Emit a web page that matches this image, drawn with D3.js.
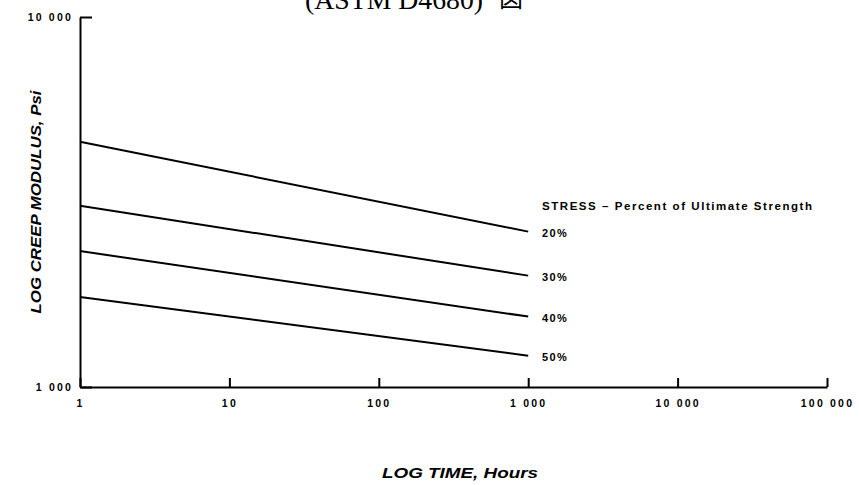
<!DOCTYPE html>
<html>
<head>
<meta charset="utf-8">
<script src="https://cdn.jsdelivr.net/npm/d3@7"></script>
<style>
  body { margin: 0; background: #fff; }
  svg { display: block; }
  .axis path, .axis line { stroke: #000; stroke-width: 2; }
  .axis text { font-family: "Liberation Sans", Arial, sans-serif; font-weight: bold; font-size: 10.5px; letter-spacing: 2.2px; fill: #000; }
</style>
</head>
<body>
<script>
// chart data
const stressLevels = ['20%', '30%', '40%', '50%']
const timeHours = [1, 1000]
const modulus20 = [4600, 2630]
const modulus30 = [3090, 2000]
const modulus40 = [2330, 1550]
const modulus50 = [1750, 1215]
const xTicks = [1, 10, 100, 1000, 10000, 100000]
const yTicks = [1000, 10000]

const series = [modulus20, modulus30, modulus40, modulus50]

const width = 859, height = 485

const svg = d3.select('body').append('svg')
  .attr('width', width)
  .attr('height', height)

const x = d3.scaleLog().domain([1, 100000]).range([80, 827])
const y = d3.scaleLog().domain([1000, 10000]).range([387, 17])

const fmt = d3.formatLocale({ decimal: '.', thousands: ' ', grouping: [3], currency: ['', ''] }).format(',d')

// title, cut off at the top of the page
svg.append('text')
  .attr('x', 305).attr('y', 9)
  .attr('textLength', 178)
  .attr('lengthAdjust', 'spacingAndGlyphs')
  .style('font-family', '"Liberation Serif", "DejaVu Serif", serif')
  .style('font-size', '27px')
  .text('(ASTM D4680)')
svg.append('text')
  .attr('x', 499).attr('y', 7)
  .style('font-family', '"Noto Sans CJK JP", sans-serif')
  .style('font-size', '24px')
  .text('図')

// axes
const xAxis = d3.axisBottom(x)
  .tickValues(xTicks)
  .tickFormat(fmt)
  .tickSizeInner(-9)
  .tickSizeOuter(0)
  .tickPadding(13)
svg.append('g').attr('class', 'axis')
  .attr('transform', `translate(0,${y(1000)})`)
  .call(xAxis)

const yAxis = d3.axisLeft(y)
  .tickValues(yTicks)
  .tickFormat(fmt)
  .tickSizeInner(-12)
  .tickSizeOuter(0)
  .tickPadding(7)
svg.append('g').attr('class', 'axis')
  .attr('transform', `translate(${x(1)},0)`)
  .call(yAxis)

// creep lines
const line = d3.line()
  .x((d, i) => x(timeHours[i]))
  .y(d => y(d))
svg.append('g').selectAll('path')
  .data(series)
  .join('path')
  .attr('d', d => line(d))
  .attr('fill', 'none')
  .attr('stroke', '#000')
  .attr('stroke-width', 2)

// legend labels at line ends
svg.append('text')
  .attr('x', 542).attr('y', 210)
  .attr('textLength', 270)
  .attr('lengthAdjust', 'spacing')
  .style('font-family', '"Liberation Sans", Arial, sans-serif')
  .style('font-weight', 'bold')
  .style('font-size', '11.5px')
  .text('STRESS \u2013 Percent of Ultimate Strength')

svg.append('g').selectAll('text')
  .data(series)
  .join('text')
  .attr('x', 542)
  .attr('y', d => y(d[1]) + 5)
  .style('font-family', '"Liberation Sans", Arial, sans-serif')
  .style('font-weight', 'bold')
  .style('font-size', '11px')
  .style('letter-spacing', '1.4px')
  .text((d, i) => stressLevels[i])

// axis titles
svg.append('text')
  .attr('transform', `translate(41,${(y(1000) + y(10000)) / 2}) rotate(-90)`)
  .attr('text-anchor', 'middle')
  .attr('textLength', 223)
  .attr('lengthAdjust', 'spacingAndGlyphs')
  .style('font-family', '"Liberation Sans", Arial, sans-serif')
  .style('font-weight', 'bold')
  .style('font-style', 'italic')
  .style('font-size', '14px')
  .text('LOG CREEP MODULUS, Psi')

svg.append('text')
  .attr('x', 460).attr('y', 478)
  .attr('text-anchor', 'middle')
  .attr('textLength', 156)
  .attr('lengthAdjust', 'spacingAndGlyphs')
  .style('font-family', '"Liberation Sans", Arial, sans-serif')
  .style('font-weight', 'bold')
  .style('font-style', 'italic')
  .style('font-size', '15px')
  .text('LOG TIME, Hours')
</script>
</body>
</html>
